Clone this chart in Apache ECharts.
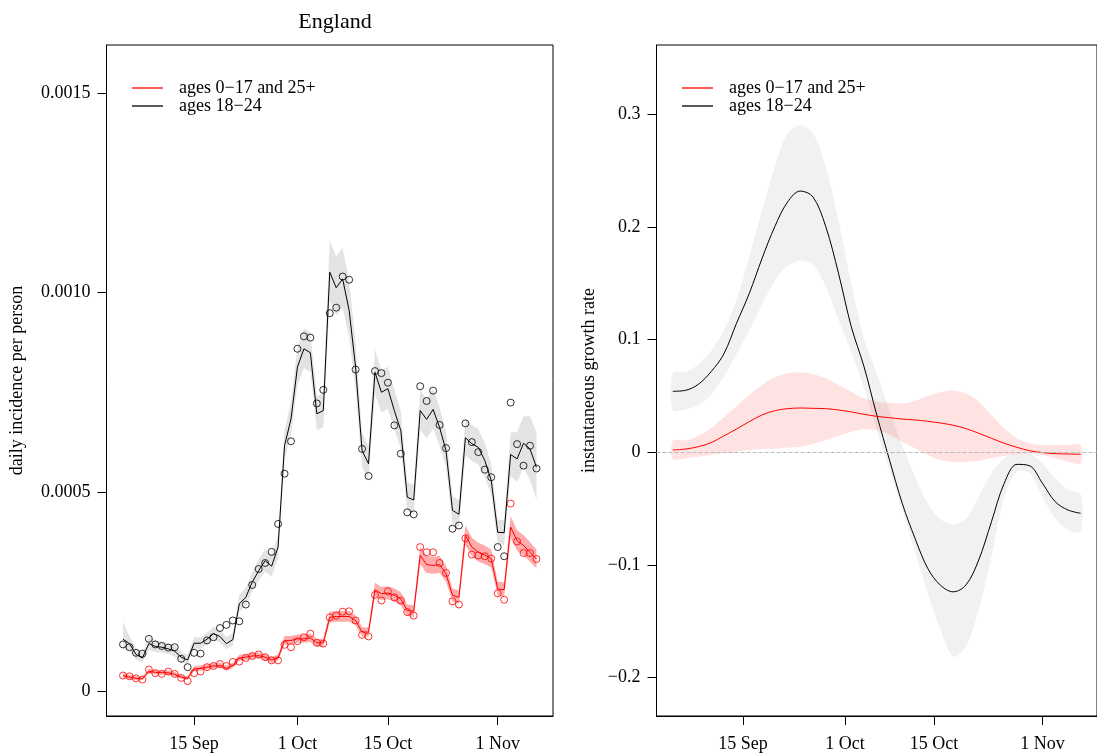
<!DOCTYPE html>
<html>
<head>
<meta charset="utf-8">
<script src="https://cdn.jsdelivr.net/npm/echarts@6/dist/echarts.min.js"></script>
<style>
html,body{margin:0;padding:0;background:#fff;}
#chart{width:1097px;height:754px;}
</style>
</head>
<body>
<div id="chart"></div>
<script>
// ---------- DATA ----------
const nameRed = 'ages 0\u221217 and 25+';
const nameBlack = 'ages 18\u221224';
const startDay = [2020, 8, 4];   // 4 Sep 2020, one observation per day
const nDays = 65;
const growthStep = 2;            // growth curves sampled every 2 days
const nGrowth = 33;

// daily incidence per person, ages 18-24 : observed points
const blackObs = [118e-6,111e-6,97e-6,95e-6,132e-6,118e-6,114e-6,110e-6,111e-6,82e-6,61e-6,97e-6,95e-6,128e-6,136e-6,159e-6,167e-6,178e-6,176e-6,218e-6,267e-6,307e-6,322e-6,350e-6,420e-6,546e-6,627e-6,859e-6,890e-6,887e-6,722e-6,756e-6,948e-6,962e-6,1040e-6,1032e-6,807e-6,608e-6,540e-6,803e-6,798e-6,774e-6,667e-6,596e-6,449e-6,444e-6,765e-6,728e-6,754e-6,668e-6,610e-6,408e-6,416e-6,672e-6,625e-6,600e-6,556e-6,537e-6,362e-6,339e-6,724e-6,620e-6,566e-6,616e-6,559e-6];
// fitted line and band, ages 18-24
const blackFit = [131e-6,120e-6,93e-6,84e-6,120e-6,113e-6,111e-6,107e-6,101e-6,86e-6,79e-6,121e-6,121e-6,131e-6,145e-6,138e-6,120e-6,130e-6,220e-6,236e-6,274e-6,303e-6,328e-6,314e-6,362e-6,616e-6,683e-6,813e-6,859e-6,849e-6,696e-6,704e-6,1051e-6,1012e-6,1034e-6,955e-6,813e-6,604e-6,571e-6,800e-6,750e-6,759e-6,704e-6,654e-6,487e-6,480e-6,704e-6,682e-6,707e-6,662e-6,604e-6,454e-6,444e-6,636e-6,621e-6,612e-6,579e-6,529e-6,399e-6,398e-6,594e-6,583e-6,622e-6,608e-6,562e-6];
const blackUpper = [175e-6,140e-6,108e-6,98e-6,138e-6,128e-6,126e-6,121e-6,115e-6,99e-6,92e-6,136e-6,136e-6,147e-6,162e-6,155e-6,136e-6,147e-6,243e-6,260e-6,300e-6,331e-6,357e-6,342e-6,392e-6,655e-6,725e-6,862e-6,910e-6,900e-6,740e-6,748e-6,1130e-6,1090e-6,1112e-6,1028e-6,875e-6,650e-6,615e-6,858e-6,805e-6,814e-6,756e-6,703e-6,525e-6,518e-6,756e-6,733e-6,759e-6,712e-6,650e-6,490e-6,479e-6,684e-6,668e-6,658e-6,623e-6,570e-6,431e-6,430e-6,650e-6,650e-6,690e-6,690e-6,650e-6];
const blackLower = [105e-6,103e-6,80e-6,72e-6,104e-6,99e-6,97e-6,94e-6,88e-6,74e-6,68e-6,107e-6,107e-6,117e-6,130e-6,123e-6,106e-6,115e-6,199e-6,214e-6,250e-6,277e-6,301e-6,288e-6,334e-6,580e-6,644e-6,767e-6,811e-6,801e-6,655e-6,662e-6,980e-6,943e-6,962e-6,888e-6,756e-6,562e-6,530e-6,746e-6,699e-6,708e-6,656e-6,609e-6,452e-6,445e-6,656e-6,635e-6,659e-6,616e-6,562e-6,421e-6,412e-6,592e-6,578e-6,569e-6,538e-6,492e-6,370e-6,369e-6,540e-6,525e-6,560e-6,530e-6,480e-6];

// daily incidence per person, ages 0-17 and 25+ : observed points
const redObs = [40e-6,38e-6,33e-6,30e-6,55e-6,46e-6,44e-6,50e-6,44e-6,34e-6,26e-6,46e-6,50e-6,61e-6,64e-6,69e-6,64e-6,74e-6,75e-6,84e-6,89e-6,93e-6,86e-6,78e-6,78e-6,117e-6,111e-6,126e-6,136e-6,145e-6,122e-6,120e-6,186e-6,190e-6,200e-6,201e-6,178e-6,142e-6,138e-6,242e-6,228e-6,251e-6,236e-6,228e-6,199e-6,190e-6,362e-6,349e-6,349e-6,322e-6,297e-6,226e-6,218e-6,384e-6,343e-6,341e-6,339e-6,333e-6,246e-6,230e-6,471e-6,376e-6,347e-6,347e-6,332e-6];
const redFit = [40e-6,36e-6,33e-6,32e-6,51e-6,48e-6,47e-6,47e-6,43e-6,36e-6,33e-6,57e-6,58e-6,61e-6,64e-6,65e-6,58e-6,65e-6,84e-6,86e-6,89e-6,90e-6,86e-6,79e-6,84e-6,128e-6,128e-6,132e-6,132e-6,134e-6,122e-6,122e-6,186e-6,188e-6,188e-6,188e-6,178e-6,149e-6,149e-6,255e-6,245e-6,247e-6,241e-6,232e-6,203e-6,201e-6,341e-6,318e-6,316e-6,318e-6,295e-6,241e-6,236e-6,391e-6,362e-6,349e-6,342e-6,333e-6,257e-6,255e-6,412e-6,378e-6,366e-6,349e-6,332e-6];
const redUpper = [46e-6,42e-6,38e-6,37e-6,57e-6,54e-6,53e-6,53e-6,49e-6,41e-6,38e-6,64e-6,65e-6,68e-6,71e-6,72e-6,65e-6,72e-6,92e-6,94e-6,97e-6,98e-6,94e-6,87e-6,92e-6,139e-6,139e-6,143e-6,143e-6,145e-6,132e-6,132e-6,200e-6,202e-6,202e-6,202e-6,191e-6,161e-6,161e-6,273e-6,262e-6,264e-6,258e-6,249e-6,218e-6,216e-6,364e-6,340e-6,338e-6,340e-6,316e-6,258e-6,253e-6,416e-6,386e-6,373e-6,366e-6,356e-6,275e-6,273e-6,440e-6,404e-6,392e-6,374e-6,356e-6];
const redLower = [35e-6,31e-6,29e-6,28e-6,46e-6,43e-6,42e-6,42e-6,38e-6,32e-6,29e-6,51e-6,52e-6,55e-6,58e-6,59e-6,52e-6,59e-6,77e-6,79e-6,82e-6,83e-6,79e-6,72e-6,77e-6,118e-6,118e-6,122e-6,122e-6,124e-6,112e-6,112e-6,173e-6,175e-6,175e-6,175e-6,166e-6,138e-6,138e-6,238e-6,229e-6,231e-6,225e-6,216e-6,189e-6,187e-6,319e-6,297e-6,295e-6,297e-6,275e-6,225e-6,220e-6,367e-6,339e-6,326e-6,319e-6,311e-6,240e-6,238e-6,385e-6,353e-6,341e-6,325e-6,309e-6];

// instantaneous growth rate (sampled every 2 days from 4 Sep)
const blackGrowth = [0.0541,0.055,0.0603,0.0715,0.0872,0.1145,0.141,0.172,0.2002,0.222,0.2318,0.2265,0.2002,0.1588,0.1115,0.076,0.0331,-0.0068,-0.0453,-0.0763,-0.103,-0.118,-0.1238,-0.1177,-0.0956,-0.0616,-0.0275,-0.0107,-0.012,-0.0275,-0.0438,-0.0512,-0.0541];
const blackGrowthUpper = [0.0706,0.0715,0.078,0.090,0.108,0.1353,0.1736,0.215,0.2534,0.283,0.2904,0.283,0.2534,0.206,0.15,0.1011,0.070,0.0375,0.0065,-0.0216,-0.0453,-0.0595,-0.0639,-0.0586,-0.0394,-0.0186,-0.0053,-0.0006,-0.0012,-0.0098,-0.0231,-0.0335,-0.037];
const blackGrowthLower = [0.0375,0.038,0.042,0.0508,0.067,0.087,0.108,0.131,0.152,0.165,0.17,0.1662,0.147,0.1174,0.0888,0.0568,0.0198,-0.0157,-0.0512,-0.0882,-0.1251,-0.1577,-0.1814,-0.1725,-0.14,-0.0926,-0.0394,-0.0172,-0.0186,-0.0394,-0.0586,-0.069,-0.0705];
const redGrowth = [0.002,0.0029,0.005,0.0085,0.0145,0.0207,0.0272,0.0331,0.0369,0.0387,0.0393,0.039,0.0387,0.0375,0.0358,0.0337,0.0319,0.0307,0.0295,0.0287,0.0275,0.026,0.024,0.021,0.0169,0.0124,0.008,0.0044,0.0014,-0.0003,-0.0012,-0.0015,-0.0018];
const redGrowthUpper = [0.0103,0.0106,0.0145,0.0213,0.031,0.0411,0.0508,0.0597,0.0665,0.0701,0.071,0.0695,0.0656,0.0597,0.0538,0.0479,0.0449,0.044,0.0434,0.0458,0.05,0.0535,0.0547,0.0523,0.0449,0.0331,0.0213,0.0124,0.008,0.0065,0.0065,0.0065,0.0065];
const redGrowthLower = [-0.0062,-0.0053,-0.0039,-0.0024,-0.0009,0.0005,0.002,0.0027,0.0033,0.0041,0.005,0.0074,0.0109,0.0145,0.0183,0.0204,0.0198,0.0154,0.0094,0.0035,-0.0024,-0.0068,-0.0086,-0.0086,-0.0075,-0.0053,-0.0033,-0.0015,-0.0012,-0.0024,-0.0053,-0.0083,-0.0098];

// tick labels
const xTickDates = [[2020,8,15],[2020,9,1],[2020,9,15],[2020,10,1]];
const xTickLabels = ['15 Sep','1 Oct','15 Oct','1 Nov'];
const leftTicks = [0, 0.0005, 0.001, 0.0015];
const leftTickLabels = ['0','0.0005','0.0010','0.0015'];
const rightTicks = [-0.2, -0.1, 0, 0.1, 0.2, 0.3];
const rightTickLabels = ['\u22120.2','\u22120.1','0','0.1','0.2','0.3'];

// ---------- BUILD ----------
const FONT = 'Liberation Serif, Times New Roman, serif';
const days = [];
for (let i = 0; i < nDays; i++) days.push(new Date(startDay[0], startDay[1], startDay[2] + i).getTime());
const gdays = [];
for (let i = 0; i < nGrowth; i++) gdays.push(new Date(startDay[0], startDay[1], startDay[2] + growthStep * i).getTime());
const xTicks = xTickDates.map(d => new Date(d[0], d[1], d[2]).getTime());
const xMin = new Date(2020, 8, 1, 10, 34).getTime();
const xMax = new Date(2020, 10, 9, 13, 26).getTime();

const pair = (xs, ys) => xs.map((x, i) => [x, ys[i]]);
function lookup(ticks, labels, v, tol) {
  for (let i = 0; i < ticks.length; i++) if (Math.abs(ticks[i] - v) < tol) return labels[i];
  return '';
}
function band(gi, xs, lo, hi, color, smooth) {
  return {
    type: 'custom', xAxisIndex: gi, yAxisIndex: gi, silent: true, z: 1,
    data: [[xs[0], lo[0]]],
    renderItem: function (params, api) {
      const pts = [];
      for (let i = 0; i < xs.length; i++) pts.push(api.coord([xs[i], hi[i]]));
      for (let i = xs.length - 1; i >= 0; i--) pts.push(api.coord([xs[i], lo[i]]));
      return { type: 'polygon', shape: { points: pts, smooth: smooth }, style: { fill: color } };
    }
  };
}
function xAxis(gi) {
  return {
    type: 'value', gridIndex: gi, min: xMin, max: xMax, scale: true,
    splitLine: { show: false },
    axisLine: { show: true, onZero: false, lineStyle: { color: '#000', width: 1 } },
    axisTick: { show: true, length: 9, inside: false, customValues: xTicks, lineStyle: { color: '#000' } },
    axisLabel: { show: true, customValues: xTicks, margin: 19, fontSize: 18, fontFamily: FONT, color: '#000',
      formatter: v => lookup(xTicks, xTickLabels, v, 3600000) }
  };
}
function legend(left) {
  return {
    left: left, top: 79, orient: 'vertical', selectedMode: false, padding: 0,
    itemWidth: 31, itemHeight: 1.3, itemGap: 0, icon: 'rect',
    data: [nameRed, nameBlack],
    textStyle: { fontFamily: FONT, fontSize: 18, color: '#000', lineHeight: 18, padding: [0, 0, 0, 11] }
  };
}

const option = {
  animation: false,
  backgroundColor: '#fff',
  title: { text: 'England', left: 330, top: 6, textAlign: 'center',
    textStyle: { fontFamily: FONT, fontSize: 22, fontWeight: 'normal', color: '#000' } },
  legend: [legend(132), legend(682)],
  grid: [
    { left: 106.5, top: 45, width: 446.5, height: 671, show: true, borderColor: '#000', borderWidth: 1, backgroundColor: 'transparent' },
    { left: 656.5, top: 45, width: 446, height: 671, show: true, borderColor: '#000', borderWidth: 1, backgroundColor: 'transparent' }
  ],
  xAxis: [xAxis(0), xAxis(1)],
  yAxis: [
    { type: 'value', gridIndex: 0, min: -0.0000614, max: 0.0016203,
      name: 'daily incidence per person', nameLocation: 'middle', nameGap: 80,
      nameTextStyle: { fontFamily: FONT, fontSize: 18, color: '#000' },
      splitLine: { show: false },
      axisLine: { show: true, onZero: false, lineStyle: { color: '#000' } },
      axisTick: { show: true, length: 9, customValues: leftTicks, lineStyle: { color: '#000' } },
      axisLabel: { customValues: leftTicks, margin: 16, fontSize: 18, fontFamily: FONT, color: '#000',
        formatter: v => lookup(leftTicks, leftTickLabels, v, 1e-9) } },
    { type: 'value', gridIndex: 1, min: -0.234, max: 0.3614,
      name: 'instantaneous growth rate', nameLocation: 'middle', nameGap: 58,
      nameTextStyle: { fontFamily: FONT, fontSize: 18, color: '#000' },
      splitLine: { show: false },
      axisLine: { show: true, onZero: false, lineStyle: { color: '#000' } },
      axisTick: { show: true, length: 9, customValues: rightTicks, lineStyle: { color: '#000' } },
      axisLabel: { customValues: rightTicks, margin: 16, fontSize: 18, fontFamily: FONT, color: '#000',
        formatter: v => lookup(rightTicks, rightTickLabels, v, 1e-6) } }
  ],
  series: [
    band(0, days, blackLower, blackUpper, 'rgba(0,0,0,0.11)', 0),
    band(0, days, redLower, redUpper, 'rgba(255,0,0,0.33)', 0),
    { name: nameBlack, type: 'line', xAxisIndex: 0, yAxisIndex: 0, data: pair(days, blackFit),
      showSymbol: false, color: '#000', lineStyle: { color: '#000', width: 1 }, z: 2 },
    { name: nameRed, type: 'line', xAxisIndex: 0, yAxisIndex: 0, data: pair(days, redFit),
      showSymbol: false, color: '#ff0000', lineStyle: { color: '#ff0000', width: 1 }, z: 2 },
    { name: 'obs18', type: 'scatter', xAxisIndex: 0, yAxisIndex: 0, data: pair(days, blackObs),
      symbol: 'circle', symbolSize: 7, itemStyle: { color: 'rgba(0,0,0,0)', borderColor: '#000', borderWidth: 1 }, z: 3 },
    { name: 'obsOther', type: 'scatter', xAxisIndex: 0, yAxisIndex: 0, data: pair(days, redObs),
      symbol: 'circle', symbolSize: 7, itemStyle: { color: 'rgba(0,0,0,0)', borderColor: '#ff0000', borderWidth: 1 }, z: 3 },

    band(1, gdays, blackGrowthLower, blackGrowthUpper, 'rgba(0,0,0,0.055)', 0.3),
    band(1, gdays, redGrowthLower, redGrowthUpper, 'rgba(255,0,0,0.11)', 0.3),
    { name: nameBlack, type: 'line', xAxisIndex: 1, yAxisIndex: 1, data: pair(gdays, blackGrowth),
      smooth: 0.35, showSymbol: false, color: '#000', lineStyle: { color: '#000', width: 1 }, z: 2 },
    { name: nameRed, type: 'line', xAxisIndex: 1, yAxisIndex: 1, data: pair(gdays, redGrowth),
      smooth: 0.35, showSymbol: false, color: '#ff0000', lineStyle: { color: '#ff0000', width: 1 }, z: 2,
      markLine: { silent: true, symbol: 'none', label: { show: false },
        lineStyle: { type: 'dashed', color: '#bbbbbb', width: 1 }, data: [{ yAxis: 0 }] } }
  ]
};

const chart = echarts.init(document.getElementById('chart'), null, { renderer: 'canvas' });
chart.setOption(option);
</script>
</body>
</html>
